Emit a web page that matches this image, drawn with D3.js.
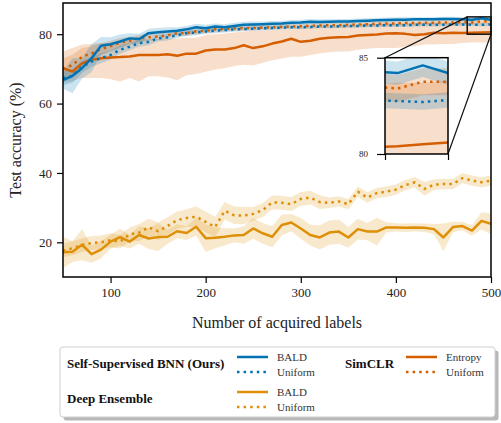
<!DOCTYPE html>
<html>
<head>
<meta charset="utf-8">
<script src="https://cdn.jsdelivr.net/npm/d3@7"></script>
<style>
  body { margin: 0; background: #fff; }
  svg { display: block; font-family: "Liberation Serif", "DejaVu Serif", serif; }
</style>
</head>
<body>
<div class="chart"></div>
<script>
// acquired labels (x)
const labels = [50,60,70,80,90,100,110,120,130,140,150,160,170,180,190,200,210,220,230,240,
  250,260,270,280,290,300,310,320,330,340,350,360,370,380,390,400,410,420,430,440,450,460,470,480,490,500];

// Self-Supervised BNN
const bnnBald = [66.8,68.0,70.2,73.1,76.7,77.1,77.9,78.8,78.6,80.3, 80.6,80.8,81.0,81.4,82.0,81.7,82.2,82.0,82.4,82.7,
  82.8,82.9,83.0,83.1,83.3,83.4,83.6,83.5,83.6,83.7, 83.7,83.8,83.9,84.0,84.1,84.2,84.2,84.3,84.3,84.3, 84.4,84.4,84.3,84.2,84.6,84.2];
const bnnBaldStd = [2.5,5.0,3.0,4.0,2.5,2.0,2.0,1.5,1.5,1.3, 1.2,1.2,1.0,1.0,1.0,1.0,0.9,0.9,0.9,0.9,
  0.9,0.8,0.8,0.8,0.8,0.8,0.8,0.8,0.7,0.7, 0.7,0.7,0.7,0.7,0.7,0.7,0.7,0.6,0.6,0.6, 0.6,0.6,0.6,0.6,0.6,0.6];
const bnnUnif = [67.3,68.0,70.6,72.1,73.1,74.0,75.5,76.4,77.4,77.8, 78.8,79.1,79.7,80.3,80.5,80.8,81.0,81.2,81.4,81.5,
  81.6,81.7,81.8,81.9,82.0,82.0,82.1,82.2,82.2,82.3, 82.4,82.4,82.5,82.5,82.6,82.6,82.6,82.7,82.7,82.7, 82.7,82.8,82.8,82.75,82.7,82.8];
const bnnUnifStd = [2.0,2.0,1.8,1.5,1.5,1.3,1.2,1.0,1.0,1.0, 0.9,0.9,0.8,0.8,0.8,0.7,0.7,0.7,0.7,0.6,
  0.6,0.6,0.6,0.6,0.5,0.5,0.5,0.5,0.5,0.5, 0.5,0.5,0.5,0.5,0.5,0.5,0.5,0.5,0.5,0.5, 0.4,0.4,0.4,0.4,0.4,0.4];

// SimCLR
const simEnt = [70.2,69.2,71.6,72.6,73.1,73.3,73.4,73.6,74.0,74.0, 74.0,74.2,73.8,74.4,74.4,75.3,75.6,75.6,76.0,76.8,
  76.0,76.5,77.3,77.9,78.7,77.8,78.1,78.7,79.0,79.1, 79.2,79.6,79.8,79.9,80.2,80.3,80.1,79.8,80.0,80.4, 80.3,80.4,80.35,80.4,80.5,80.6];
const simEntLo = [66.0,66.5,67.4,67.4,67.4,67.0,66.4,67.4,66.4,67.9, 67.9,67.5,66.7,68.2,68.5,69.2,69.8,70.2,70.8,71.2,
  71.0,71.8,72.5,73.0,73.5,73.5,74.0,74.5,74.8,75.0, 75.0,75.5,75.8,76.0,76.0,76.0,76.3,76.5,77.0,77.0, 77.2,77.2,77.5,77.6,77.6,77.7];
const simEntHi = [75.0,76.0,77.0,77.2,77.5,77.5,78.0,78.3,78.5,78.6, 78.6,78.8,78.8,79.0,79.0,79.8,80.0,80.2,80.5,80.8,
  81.0,81.0,81.2,81.3,81.5,81.7,81.8,82.0,82.0,82.2, 82.5,82.7,83.0,83.0,83.2,83.3,83.3,83.4,83.5,83.5, 83.6,83.6,83.6,83.7,83.7,83.8];
const simUnif = [70.0,71.1,73.5,74.5,75.7,76.6,77.6,78.1,78.8,79.1, 79.3,79.7,80.3,80.3,80.8,81.0,81.4,81.4,81.7,81.7,
  81.8,81.9,82.0,82.1,82.2,82.3,82.4,82.5,82.6,82.6, 82.7,82.8,82.9,83.0,83.1,83.1,83.2,83.2,83.3,83.3, 83.4,83.4,83.5,83.4,83.75,83.75];
const simUnifStd = [3.0,3.0,2.5,2.0,1.8,1.5,1.3,1.2,1.0,1.0, 1.0,0.9,0.9,0.8,0.8,0.8,0.8,0.7,0.7,0.7,
  0.7,0.7,0.7,0.7,0.7,0.7,0.7,0.7,0.7,0.7, 0.7,0.7,0.7,0.7,0.7,0.7,0.7,0.7,0.7,0.7, 0.7,0.7,0.7,0.7,0.7,0.7];

// Deep Ensemble
const deBald = [17.1,17.3,19.3,16.6,17.9,20.2,21.5,20.2,22.1,21.1, 21.5,21.6,23.2,22.7,24.5,21.2,21.3,21.6,22.0,22.1,
  24.0,22.6,21.6,25.0,25.7,24.0,22.1,21.4,22.8,23.1, 21.4,23.8,23.1,23.1,24.3,24.3,24.2,24.3,24.2,23.8, 21.4,24.4,24.7,23.4,26.2,25.3];
const deBaldStd = [4.5,3.0,4.5,2.5,2.5,2.0,2.5,2.0,2.5,3.0, 4.0,2.0,2.0,2.0,2.5,4.0,3.0,2.5,2.0,2.5,
  3.0,3.0,3.0,3.0,2.5,3.0,3.0,3.5,3.5,3.5, 3.0,3.0,2.5,4.0,1.5,1.2,1.2,1.2,1.2,1.5, 4.0,1.5,1.2,1.5,2.5,3.0];
const deUnif = [17.6,18.3,19.2,19.8,20.0,20.6,20.2,22.3,22.8,24.3, 23.2,24.7,26.4,27.0,27.4,25.9,24.4,29.1,27.8,27.7,
  28.2,29.3,31.5,31.4,31.0,32.5,32.9,31.6,31.4,31.8, 31.0,34.6,32.9,34.2,34.6,35.2,36.5,37.3,35.4,36.6, 36.8,36.8,38.5,37.8,37.3,37.8];
const deUnifStd = [2.0,2.0,2.0,2.0,2.0,2.0,2.0,2.0,2.5,2.5, 2.5,2.5,2.5,2.5,3.0,3.0,3.0,2.5,2.5,2.5,
  2.0,2.0,2.0,2.0,2.0,2.0,2.0,2.0,1.5,1.5, 1.5,1.5,1.5,1.5,1.5,1.5,1.5,1.5,2.0,1.5, 1.5,1.5,1.5,1.5,1.5,1.5];

const xTicks = [100,200,300,400,500];
const yTicks = [20,40,60,80];
const insetYTicks = [80,85];
const insetXTicks = [475,500];

const blue = '#0173b2', gold = '#de8f05', red = '#d55e00';

// band = mean +/- std
function band(mean, std) {
    return { lo: mean.map(function(d, i) { return d - std[i]; }), hi: mean.map(function(d, i) { return d + std[i]; }) };
}
var bb = band(bnnBald, bnnBaldStd), bu = band(bnnUnif, bnnUnifStd),
    su = band(simUnif, simUnifStd), db = band(deBald, deBaldStd), du = band(deUnif, deUnifStd);

var series = [
    { mean: simEnt, lo: simEntLo, hi: simEntHi, color: red, dotted: false },
    { mean: simUnif, lo: su.lo, hi: su.hi, color: red, dotted: true },
    { mean: bnnUnif, lo: bu.lo, hi: bu.hi, color: blue, dotted: true },
    { mean: bnnBald, lo: bb.lo, hi: bb.hi, color: blue, dotted: false },
    { mean: deUnif, lo: du.lo, hi: du.hi, color: gold, dotted: true },
    { mean: deBald, lo: db.lo, hi: db.hi, color: gold, dotted: false }
];

var W = 501, H = 423;
var plot = { left: 63, right: 491, top: 3, bottom: 277 };

var svg = d3.select('.chart').append('svg').attr('width', W).attr('height', H);

var x = d3.scaleLinear().domain([50, 500]).range([plot.left, plot.right]);
var y = d3.scaleLinear().domain([10, 89]).range([plot.bottom, plot.top]);

var defs = svg.append('defs');
defs.append('clipPath').attr('id', 'clipMain').append('rect')
    .attr('x', plot.left).attr('y', plot.top)
    .attr('width', plot.right - plot.left).attr('height', plot.bottom - plot.top);

function drawSeries(g, xs, ys, lw) {
    series.forEach(function(s) {
        var area = d3.area()
            .x(function(d, i) { return xs(labels[i]); })
            .y0(function(d, i) { return ys(s.lo[i]); })
            .y1(function(d, i) { return ys(s.hi[i]); });
        g.append('path').datum(s.mean)
            .attr('d', area)
            .attr('fill', s.color)
            .attr('fill-opacity', 0.2)
            .attr('stroke', 'none');
    });
    series.forEach(function(s) {
        var line = d3.line()
            .x(function(d, i) { return xs(labels[i]); })
            .y(function(d) { return ys(d); });
        g.append('path').datum(s.mean)
            .attr('d', line)
            .attr('fill', 'none')
            .attr('stroke', s.color)
            .attr('stroke-width', lw)
            .attr('stroke-dasharray', s.dotted ? '2.5,4.1' : null)
            .attr('stroke-linejoin', 'round');
    });
}

var main = svg.append('g').attr('clip-path', 'url(#clipMain)');
drawSeries(main, x, y, 2.5);

// axes
var xAxis = svg.append('g')
    .attr('transform', 'translate(0,' + plot.bottom + ')')
    .call(d3.axisBottom(x).tickValues(xTicks).tickSize(6).tickPadding(5));
var yAxis = svg.append('g')
    .attr('transform', 'translate(' + plot.left + ',0)')
    .call(d3.axisLeft(y).tickValues(yTicks).tickSize(6).tickPadding(5));
[xAxis, yAxis].forEach(function(a) {
    a.select('.domain').remove();
    a.selectAll('.tick line').attr('stroke', '#000').attr('stroke-width', 1.2);
    a.selectAll('.tick text').attr('fill', '#222')
        .style('font-family', '"Liberation Serif", serif').style('font-size', '13px');
});

svg.append('rect')
    .attr('x', plot.left).attr('y', plot.top)
    .attr('width', plot.right - plot.left).attr('height', plot.bottom - plot.top)
    .attr('fill', 'none').attr('stroke', '#000').attr('stroke-width', 1.5);

svg.append('text')
    .attr('x', (plot.left + plot.right) / 2).attr('y', 322)
    .attr('dy', '0.35em')
    .attr('text-anchor', 'middle')
    .style('font-size', '16px').attr('fill', '#222')
    .text('Number of acquired labels');

svg.append('text')
    .attr('transform', 'translate(21,' + (plot.top + plot.bottom) / 2 + ') rotate(-90)')
    .attr('text-anchor', 'middle')
    .style('font-size', '16px').attr('fill', '#222')
    .text('Test accuracy (%)');

// inset zoom
var inset = { left: 385, right: 448, top: 57.7, bottom: 154 };
var xi = d3.scaleLinear().domain([475, 500]).range([inset.left, inset.right]);
var yi = d3.scaleLinear().domain([80, 85]).range([inset.bottom, inset.top]);

// marker rect + connectors
svg.append('rect')
    .attr('x', x(475)).attr('y', y(85))
    .attr('width', x(500) - x(475)).attr('height', y(80) - y(85))
    .attr('fill', 'none').attr('stroke', '#111').attr('stroke-width', 1.5);
svg.append('line')
    .attr('x1', inset.left).attr('y1', inset.top).attr('x2', x(475)).attr('y2', y(85))
    .attr('stroke', '#111').attr('stroke-width', 1.2);
svg.append('line')
    .attr('x1', inset.right).attr('y1', inset.bottom).attr('x2', x(500)).attr('y2', y(80))
    .attr('stroke', '#111').attr('stroke-width', 1.2);

defs.append('clipPath').attr('id', 'clipInset').append('rect')
    .attr('x', inset.left).attr('y', inset.top)
    .attr('width', inset.right - inset.left).attr('height', inset.bottom - inset.top);

svg.append('rect')
    .attr('x', inset.left).attr('y', inset.top)
    .attr('width', inset.right - inset.left).attr('height', inset.bottom - inset.top)
    .attr('fill', '#fff');
var ig = svg.append('g').attr('clip-path', 'url(#clipInset)');
drawSeries(ig, xi, yi, 2.5);

var iy = svg.append('g')
    .attr('transform', 'translate(' + inset.left + ',0)')
    .call(d3.axisLeft(yi).tickValues(insetYTicks).tickSize(8).tickPadding(9).tickFormat(d3.format('d')));
var ix = svg.append('g')
    .attr('transform', 'translate(0,' + inset.bottom + ')')
    .call(d3.axisBottom(xi).tickValues(insetXTicks).tickSize(6).tickFormat(''));
[iy, ix].forEach(function(a) {
    a.select('.domain').remove();
    a.selectAll('.tick line').attr('stroke', '#000').attr('stroke-width', 1.2);
    a.selectAll('.tick text').attr('fill', '#222')
        .style('font-family', '"Liberation Serif", serif').style('font-size', '9px');
});
svg.append('rect')
    .attr('x', inset.left).attr('y', inset.top)
    .attr('width', inset.right - inset.left).attr('height', inset.bottom - inset.top)
    .attr('fill', 'none').attr('stroke', '#000').attr('stroke-width', 1.5);

// legend
var lg = svg.append('g');
lg.append('rect').attr('x', 63.5).attr('y', 350.5).attr('width', 435).attr('height', 70)
    .attr('rx', 3).attr('fill', '#b8b8b8');
lg.append('rect').attr('x', 60).attr('y', 347).attr('width', 435).attr('height', 70)
    .attr('rx', 3).attr('fill', '#fff').attr('stroke', '#cfcfcf').attr('stroke-width', 1);

var groups = [
    { name: 'Self-Supervised BNN (Ours)', gx: 67, gy: 363, lx: 237, color: blue, items: ['BALD', 'Uniform'] },
    { name: 'SimCLR', gx: 345, gy: 363, lx: 406, color: red, items: ['Entropy', 'Uniform'] },
    { name: 'Deep Ensemble', gx: 67, gy: 398, lx: 237, color: gold, items: ['BALD', 'Uniform'] }
];
groups.forEach(function(gr) {
    lg.append('text').attr('x', gr.gx).attr('y', gr.gy).attr('dy', '0.35em')
        .style('font-size', '13px').style('font-weight', 'bold').attr('fill', '#111')
        .text(gr.name);
    gr.items.forEach(function(it, k) {
        var ly = gr.gy - 6 + k * 15;
        lg.append('line').attr('x1', gr.lx).attr('x2', gr.lx + 31).attr('y1', ly).attr('y2', ly)
            .attr('stroke', gr.color).attr('stroke-width', 2.5)
            .attr('stroke-dasharray', k === 1 ? '2.5,4.1' : null);
        lg.append('text').attr('x', gr.lx + 40).attr('y', ly).attr('dy', '0.35em')
            .style('font-size', '11px').attr('fill', '#333')
            .text(it);
    });
});
</script>
</body>
</html>
